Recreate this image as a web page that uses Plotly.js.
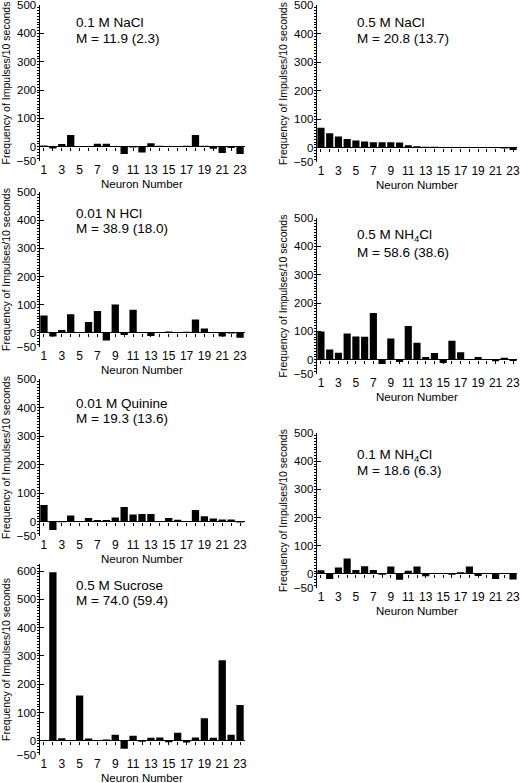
<!DOCTYPE html>
<html><head><meta charset="utf-8">
<script src="https://cdn.plot.ly/plotly-3.0.1.min.js"></script>
<style>html,body{margin:0;padding:0;background:#fff}#chart{width:521px;height:783px}</style>
</head><body><div id="chart"></div>
<script>
// ---- data ----
const neurons = [1,2,3,4,5,6,7,8,9,10,11,12,13,14,15,16,17,18,19,20,21,22,23];
const xTickVals = [1,3,5,7,9,11,13,15,17,19,21,23];
const yTicksStd = [-50,0,100,200,300,400,500];
const yTicksSucrose = [-50,0,100,200,300,400,500,600];

const nacl01   = [5,-6,10,42,3,2,11,11,3,-25,-2,-20,13,4,2,-1,4,42,4,-7,-22,-4,-25];
const hcl001   = [62,-13,10,66,0,39,78,-27,101,-7,82,2,-11,0,5,0,4,48,16,0,-13,-2,-17];
const quinine  = [59,-29,-2,22,-1,13,6,6,15,52,25,27,27,0,13,7,0,41,19,11,8,8,-3];
const sucrose  = [1,596,9,1,160,8,0,5,22,-28,18,-3,11,12,-5,29,-6,12,80,11,285,22,127];
const nacl05   = [70,51,39,31,25,22,19,19,19,18,9,5,3,3,2,2,1,1,1,0,-1,-3,-8];
const nh4cl05  = [100,36,25,93,82,81,165,-15,75,-8,119,60,10,24,-11,67,27,0,10,0,-5,7,-4];
const nh4cl01  = [13,-18,23,55,14,27,14,-3,26,-21,11,26,-8,0,0,-3,6,26,-7,0,-18,2,-20];

const labels1 = ["0.1 M NaCl","0.01 N HCl","0.01 M Quinine","0.5 M Sucrose","0.5 M NaCl","0.5 M NH<sub>4</sub>Cl","0.1 M NH<sub>4</sub>Cl"];
const labels2 = ["M = 11.9 (2.3)","M = 38.9 (18.0)","M = 19.3 (13.6)","M = 74.0 (59.4)","M = 20.8 (13.7)","M = 58.6 (38.6)","M = 18.6 (6.3)"];
const seriesList = [nacl01, hcl001, quinine, sucrose, nacl05, nh4cl05, nh4cl01];
const yTitle = "Frequency of Impulses/10 seconds";
const xTitle = "Neuron Number";

// ---- layout geometry (pixels) ----
const W = 521, H = 783;
const geo = [
  {col:0, top:5,   bot:161, ymax:500, ticks:yTicksStd, tx:74,  t1:22,  t2:38,  xt:184},
  {col:0, top:192, bot:347, ymax:500, ticks:yTicksStd, tx:74,  t1:213, t2:228, xt:370},
  {col:0, top:379, bot:536, ymax:500, ticks:yTicksStd, tx:74,  t1:403, t2:418, xt:559},
  {col:0, top:564, bot:755, ymax:625, ticks:yTicksSucrose, tx:74, t1:585, t2:600, xt:778},
  {col:1, top:5,   bot:162, ymax:500, ticks:yTicksStd, tx:355, t1:22,  t2:38,  xt:185},
  {col:1, top:218, bot:374, ymax:500, ticks:yTicksStd, tx:355, t1:236, t2:252, xt:397},
  {col:1, top:433, bot:588, ymax:500, ticks:yTicksStd, tx:355, t1:455, t2:470, xt:611}
];
const colX = [[39.5/W, 244.5/W],[316.6/W, 517.4/W]];
const ymin = -50;
const FONT = "Liberation Sans, Arial, sans-serif";
const py = p => 1 - p/H;

const data = [];
const layout = {
  width: W, height: H,
  margin: {l:0, r:0, t:0, b:0},
  paper_bgcolor: "#fff", plot_bgcolor: "rgba(0,0,0,0)",
  showlegend: false,
  bargap: 0.18,
  font: {family: FONT, size: 11, color: "#000"},
  annotations: []
};

seriesList.forEach((vals, i) => {
  const g = geo[i];
  const s = i === 0 ? "" : String(i + 1);
  const xs = "x" + s, ys = "y" + s;
  const oi = i + 8;
  data.push({
    type: "bar", x: neurons, y: vals, xaxis: xs, yaxis: ys,
    marker: {color: "#000", line: {width: 0}}, hoverinfo: "x+y"
  });
  // invisible companion trace so the zero-line tick axis is active
  data.push({
    type: "scatter", mode: "none", x: neurons, y: vals, xaxis: "x" + oi, yaxis: ys,
    hoverinfo: "skip", showlegend: false
  });
  const yDom = [py(g.bot), py(g.top)];
  layout["xaxis" + s] = {
    domain: colX[g.col], anchor: ys, range: [0.5, 23.5],
    tickmode: "array", tickvals: xTickVals, ticks: "",
    ticklabelstandoff: 0,
    showline: false, showgrid: false, zeroline: false,
    tickfont: {size: 12, family: FONT},
    fixedrange: true
  };
  layout["yaxis" + s] = {
    domain: yDom, anchor: xs, range: [ymin, g.ymax],
    tickmode: "array", tickvals: g.ticks, ticks: "inside", ticklen: 4, tickcolor: "#000",
    ticklabeloverflow: "allow",
    minor: {tickmode: "linear", tick0: 0, dtick: 10, ticks: "outside", ticklen: 2, tickcolor: "#000"},
    showline: true, linecolor: "#000", linewidth: 1,
    showgrid: false, zeroline: true, zerolinecolor: "#000", zerolinewidth: 1,
    tickfont: {size: 11.5, family: FONT},
    title: {text: yTitle, font: {size: 10.5, family: FONT}, standoff: 4},
    fixedrange: true
  };
  const zeroPos = yDom[0] + (0 - ymin) / (g.ymax - ymin) * (yDom[1] - yDom[0]);
  layout["xaxis" + oi] = {
    overlaying: xs, anchor: "free", position: zeroPos, range: [0.5, 23.5],
    tickmode: "linear", tick0: 1, dtick: 1, ticks: "outside", ticklen: 3, tickcolor: "#000",
    showticklabels: false, showline: false, showgrid: false, zeroline: false, fixedrange: true
  };
  layout.annotations.push(
    {xref: "paper", yref: "paper", x: g.tx / W, y: py(g.t1), xanchor: "left", yanchor: "middle",
     text: labels1[i], showarrow: false, font: {size: 13.5, family: FONT, color: "#000"}},
    {xref: "paper", yref: "paper", x: g.tx / W, y: py(g.t2), xanchor: "left", yanchor: "middle",
     text: labels2[i], showarrow: false, font: {size: 13.5, family: FONT, color: "#000"}},
    {xref: "paper", yref: "paper", x: (colX[g.col][0] + colX[g.col][1]) / 2, y: py(g.xt),
     xanchor: "center", yanchor: "middle", text: xTitle, showarrow: false,
     font: {size: 11.5, family: FONT, color: "#000"}}
  );
});

Plotly.newPlot("chart", data, layout, {displayModeBar: false, staticPlot: true});
</script></body></html>
